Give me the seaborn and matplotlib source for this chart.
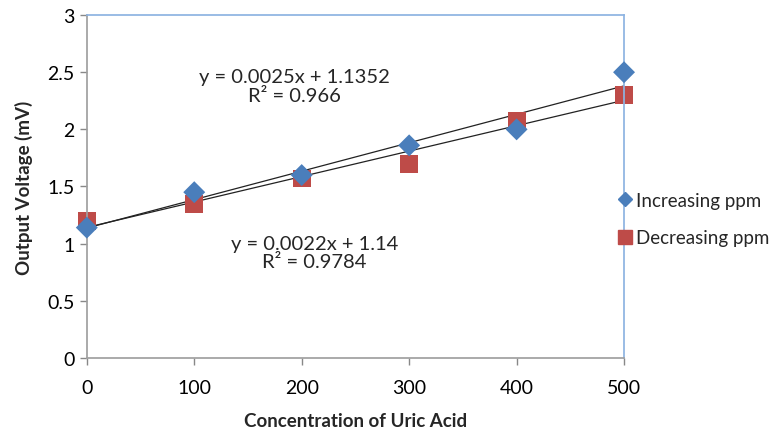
import numpy as np
import pandas as pd
import seaborn as sns
import matplotlib.pyplot as plt
from matplotlib.lines import Line2D

sns.set_theme(style="white")
plt.rcParams['font.family'] = ['Lato', 'DejaVu Sans']

# values
conc = [0, 100, 200, 300, 400, 500]
increasing = [1.14, 1.45, 1.60, 1.86, 2.00, 2.50]
decreasing = [1.20, 1.35, 1.57, 1.70, 2.07, 2.30]
y_ticks = [0, 0.5, 1, 1.5, 2, 2.5, 3]
y_tick_labels = ["0", "0.5", "1", "1.5", "2", "2.5", "3"]
eq_inc = "y = 0.0025x + 1.1352\nR² = 0.966"
eq_dec = "y = 0.0022x + 1.14\nR² = 0.9784"

blue = "#4a7ebb"
red = "#be4b48"

df = pd.DataFrame({"conc": conc, "inc": increasing, "dec": decreasing})

fig = plt.figure(figsize=(7.82, 4.35), dpi=100)
ax = fig.add_axes([0.111, 0.175, 0.687, 0.788])

# trend lines first, markers on top
sns.regplot(data=df, x="conc", y="inc", scatter=False, ci=None, ax=ax,
            line_kws=dict(color="#222222", lw=0.9))
sns.regplot(data=df, x="conc", y="dec", scatter=False, ci=None, ax=ax,
            line_kws=dict(color="#222222", lw=0.9))
sns.scatterplot(data=df, x="conc", y="inc", marker="D", s=125, color=blue,
                edgecolor="none", ax=ax, zorder=3, clip_on=False)
sns.scatterplot(data=df, x="conc", y="dec", marker="s", s=165, color=red,
                edgecolor="none", ax=ax, zorder=2, clip_on=False)

ax.set_xlim(0, 500)
ax.set_ylim(0, 3)
ax.set_xticks(conc)
ax.set_yticks(y_ticks)
ax.set_yticklabels(y_tick_labels)
ax.tick_params(axis="both", labelsize=14, colors="#888888", labelcolor="black",
               direction="out", length=5, width=1, bottom=True, left=True)
ax.tick_params(axis="x", pad=10)
ax.tick_params(axis="y", pad=4)
for s in ["left", "bottom"]:
    ax.spines[s].set_color("#a0a0a0")
for s in ["top", "right"]:
    ax.spines[s].set_color("#8db3e2")

ax.set_xlabel("Concentration of Uric Acid", fontsize=13.5, fontweight="bold", labelpad=12)
ax.set_ylabel("Output Voltage (mV)", fontsize=13.5, fontweight="bold", labelpad=10)

ax.text(193, 2.38, eq_inc, ha="center", va="center", fontsize=14.5, linespacing=1.1)
ax.text(212, 0.92, eq_dec, ha="center", va="center", fontsize=14.5, linespacing=1.1)

handles = [
    Line2D([], [], marker="D", ls="none", color=blue, markersize=7.5, label="Increasing ppm"),
    Line2D([], [], marker="s", ls="none", color=red, markersize=10.5, label="Decreasing ppm"),
]
ax.legend(handles=handles, loc="center left", bbox_to_anchor=(0.973, 0.405),
          frameon=False, fontsize=13.5, handlelength=0.8, handletextpad=0.2,
          labelspacing=1.1, borderaxespad=0)

fig.savefig("out.png", dpi=100)
